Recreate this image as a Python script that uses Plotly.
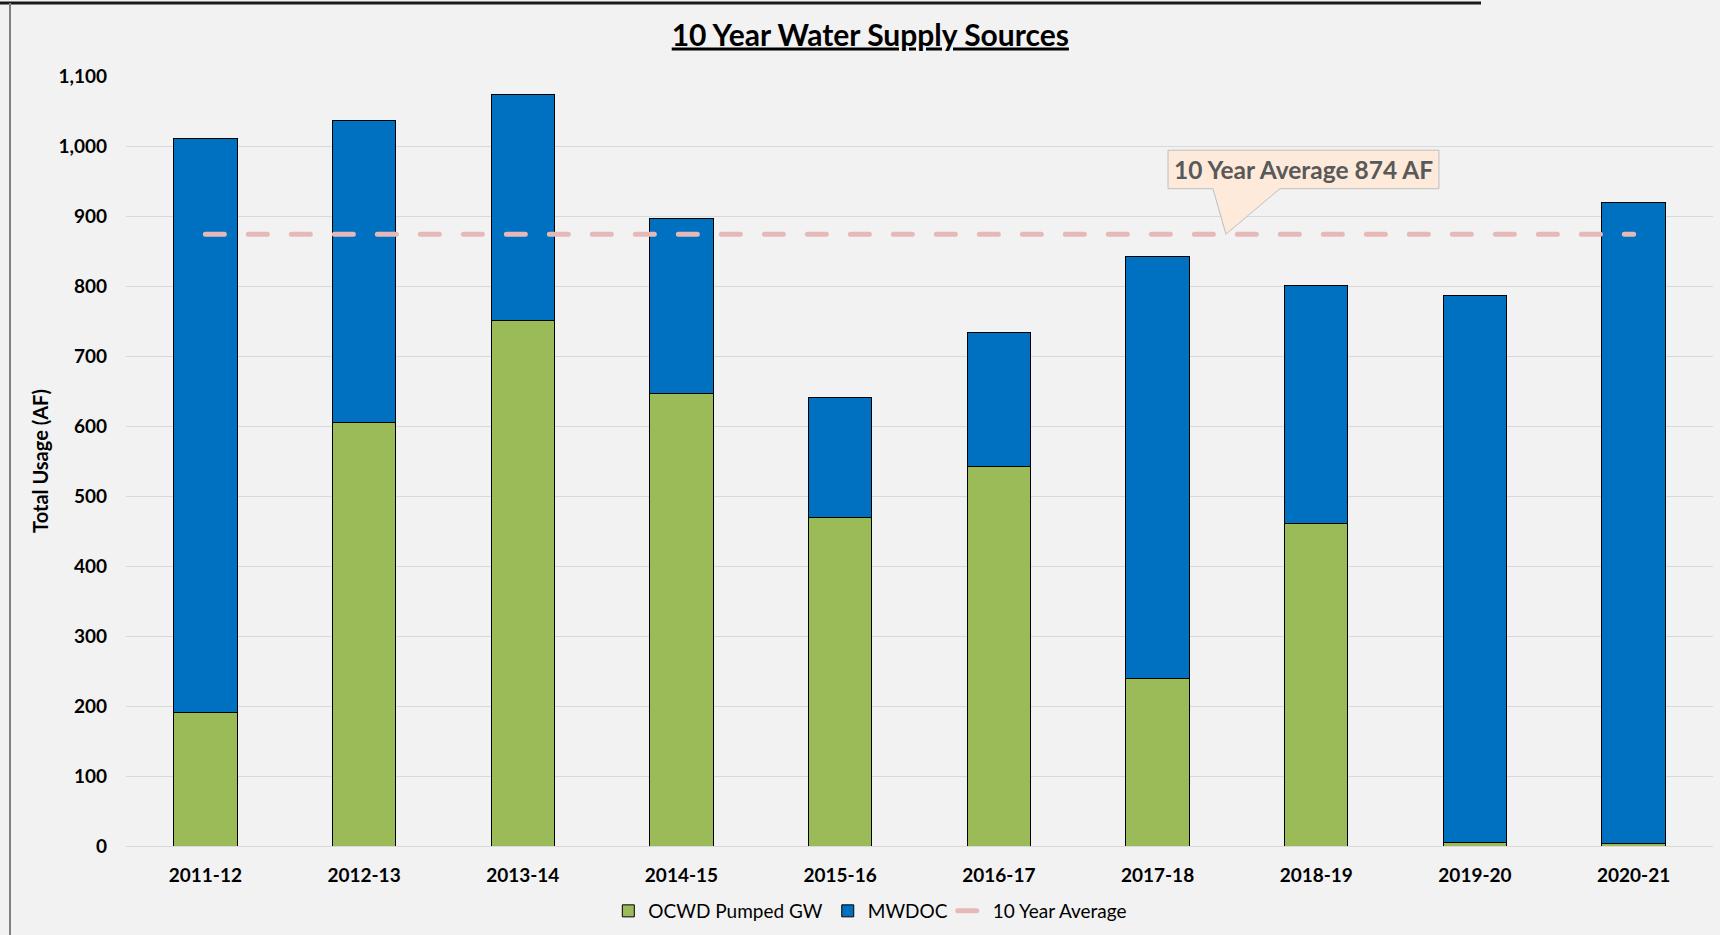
import plotly.graph_objects as go

# ---- data ----
years = ["2011-12", "2012-13", "2013-14", "2014-15", "2015-16",
         "2016-17", "2017-18", "2018-19", "2019-20", "2020-21"]
ocwd_gw = [191, 605, 751, 646, 469, 542, 240, 461, 5, 3]
mwdoc = [820, 431, 323, 251, 172, 192, 602, 340, 782, 917]
avg_value = 874
y_ticks = [0, 100, 200, 300, 400, 500, 600, 700, 800, 900, 1000, 1100]

x_idx = list(range(len(years)))
FONT = "Lato"

fig = go.Figure()
fig.add_trace(go.Bar(
    x=x_idx, y=ocwd_gw, name="OCWD Pumped GW", width=0.4,
    marker=dict(color="#9BBB59", line=dict(color="#000000", width=1)),
))
fig.add_trace(go.Bar(
    x=x_idx, y=mwdoc, name="MWDOC", width=0.4,
    marker=dict(color="#0070C0", line=dict(color="#000000", width=1)),
))
fig.add_trace(go.Scatter(
    x=x_idx, y=[avg_value] * len(years), name="10 Year Average", mode="lines",
    line=dict(color="#E6B9B8", width=5, dash="19px,24px"),
))

# callout (box + wedge pointing at the average line)
bx0, bx1 = 6.066, 7.773
by0, by1 = avg_value + 65, avg_value + 120
w0, w1, wt = 6.349, 6.771, 6.431
path = (f"M {bx0},{by0} L {w0},{by0} L {wt},{avg_value} L {w1},{by0} "
        f"L {bx1},{by0} L {bx1},{by1} L {bx0},{by1} Z")
shapes = [
    dict(type="path", path=path, xref="x", yref="y", layer="above",
         fillcolor="#FDEADA", line=dict(color="#BFBFBF", width=1)),
    # frame fragments of surrounding sheet
    dict(type="line", xref="paper", yref="paper",
         x0=(0 - 126) / 1587, x1=(1481 - 126) / 1587,
         y0=(846 - 3) / 770, y1=(846 - 3) / 770,
         line=dict(color="#1a1a1a", width=3)),
    dict(type="line", xref="paper", yref="paper",
         x0=(10 - 126) / 1587, x1=(10 - 126) / 1587,
         y0=(846 - 3) / 770, y1=(846 - 935) / 770,
         line=dict(color="#808080", width=2)),
]

fig.add_annotation(
    x=(bx0 + bx1) / 2, y=(by0 + by1) / 2, xref="x", yref="y",
    text="<b>10 Year Average 874 AF</b>", showarrow=False,
    font=dict(family=FONT, size=24.5, color="#595959"),
)

fig.update_layout(
    width=1720, height=935,
    barmode="stack",
    paper_bgcolor="#F2F2F2", plot_bgcolor="#F2F2F2",
    margin=dict(l=126, r=7, t=76, b=89),
    shapes=shapes,
    title=dict(text="<b><u>10 Year Water Supply Sources</u></b>",
               x=0.506, xanchor="center", y=1 - 35 / 935, yanchor="middle",
               font=dict(family=FONT, size=30, color="#000000")),
    font=dict(family=FONT, color="#000000"),
    legend=dict(orientation="h", xref="container", yref="container",
                x=0.506, xanchor="center", y=1 - 911 / 935, yanchor="middle",
                font=dict(family=FONT, size=19, color="#000000"),
                traceorder="normal", bgcolor="rgba(0,0,0,0)"),
    showlegend=True,
)
fig.update_xaxes(
    range=[-0.5, 9.5], tickvals=x_idx, ticktext=years,
    tickfont=dict(family=FONT, size=19, color="#000000", weight="bold"),
    showgrid=False, zeroline=False, showline=False, ticks="",
    ticklabelstandoff=16,
)
fig.update_yaxes(
    range=[0, 1100], tickvals=y_ticks, tickformat=",",
    tickfont=dict(family=FONT, size=19, color="#000000", weight="bold"),
    showgrid=True, gridcolor="#D9D9D9", gridwidth=1,
    zeroline=True, zerolinecolor="#D9D9D9", zerolinewidth=1,
    showline=False, ticks="", ticklabelstandoff=18,
    title=dict(text="<b>Total Usage (AF)</b>", standoff=4,
               font=dict(family=FONT, size=20, color="#000000")),
)

post = (
    "document.body.style.margin='0';document.body.style.overflow='hidden';"
    "document.querySelectorAll('.scatterlayer .js-line, .legendlines path')"
    ".forEach(function(e){e.style.strokeLinecap='round';});"
)
fig.write_html("out.html", config={"displayModeBar": False}, post_script=post)
